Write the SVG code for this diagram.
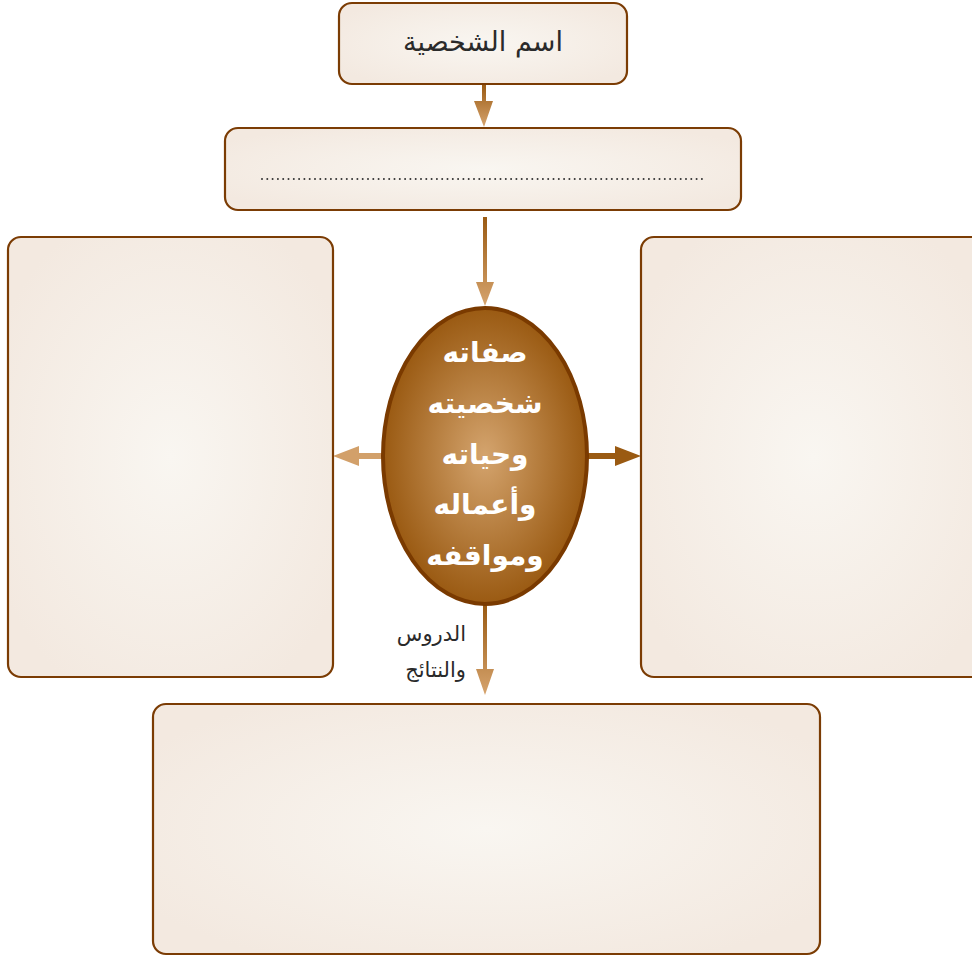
<svg xmlns="http://www.w3.org/2000/svg" width="972" height="959" viewBox="0 0 972 959">
<defs>
<radialGradient id="boxFill" cx="50%" cy="50%" r="60%">
<stop offset="0" stop-color="#f9f6f1"/>
<stop offset="1" stop-color="#f3e9e0"/>
</radialGradient>
<radialGradient id="ovalFill" cx="50%" cy="50%" r="50%">
<stop offset="0" stop-color="#d4a46e"/>
<stop offset="1" stop-color="#9a5a12"/>
</radialGradient>
<linearGradient id="arrV" x1="0" y1="0" x2="0" y2="1">
<stop offset="0" stop-color="#9a5a12"/>
<stop offset="1" stop-color="#d6a46e"/>
</linearGradient>
<style>
.box{fill:url(#boxFill);stroke:#7b3c04;stroke-width:2.2}
.lbl{font-family:"DejaVu Sans",sans-serif;fill:#2a2a2a;text-anchor:middle}
.lblr{font-family:"DejaVu Sans",sans-serif;fill:#2a2a2a;text-anchor:end;font-size:21px}
.ov{font-family:"DejaVu Sans",sans-serif;font-weight:bold;fill:#ffffff;font-size:28px;text-anchor:middle}
</style>
</defs>
<rect width="972" height="959" fill="#ffffff"/>
<g id="connectors">
<path d="M482 84 H486 V101 H493 L484 127 L474 101 H482 Z" fill="url(#arrV)"/>
<path d="M483 217 H487 V282 H494 L485 306 L476 282 H483 Z" fill="url(#arrV)"/>
<path d="M383 453 V459 H359 V466 L333 456 L359 446 V453 Z" fill="#d2a06a"/>
<path d="M588 453 V459 H615 V466 L641 456 L615 446 V453 Z" fill="#9a5a12"/>
<path d="M483 605 H487 V669 H494 L485 695 L476 669 H483 Z" fill="url(#arrV)"/>
</g>
<g id="name">
<rect class="box" x="339" y="3" width="288" height="81" rx="13"/>
<text class="lbl" x="483" y="51" font-size="27">اسم الشخصية</text>
</g>
<g id="nameField">
<rect class="box" x="225" y="128" width="516" height="82" rx="13"/>
<line x1="262" y1="179" x2="705" y2="179" stroke="#333" stroke-width="2" stroke-linecap="round" stroke-dasharray="0 5.3"/>
</g>
<g id="leftBox">
<rect class="box" x="8" y="237" width="325" height="440" rx="13"/>
</g>
<g id="rightBox">
<rect class="box" x="641" y="237" width="345" height="440" rx="13"/>
</g>
<g id="center">
<ellipse cx="485" cy="456" rx="102" ry="148" fill="url(#ovalFill)" stroke="#7a3a00" stroke-width="4"/>
<text class="ov" x="485" y="362">صفاته</text>
<text class="ov" x="485" y="413">شخصيته</text>
<text class="ov" x="485" y="464">وحياته</text>
<text class="ov" x="485" y="514">وأعماله</text>
<text class="ov" x="485" y="565">ومواقفه</text>
</g>
<g id="lessonsLabel">
<text class="lblr" x="466" y="641">الدروس</text>
<text class="lblr" x="466" y="677">والنتائج</text>
</g>
<g id="bottomBox">
<rect class="box" x="153" y="704" width="667" height="250" rx="13"/>
</g>
</svg>
